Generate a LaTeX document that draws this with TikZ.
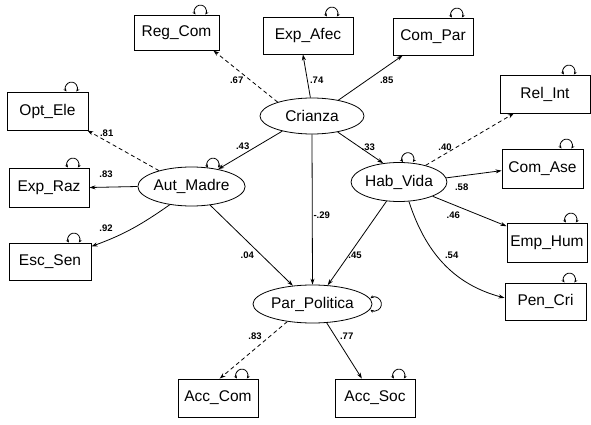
\documentclass[tikz,border=0pt]{standalone}
\usepackage{fontspec}
\setmainfont{Liberation Sans}
\usetikzlibrary{arrows.meta,positioning,shapes.geometric}

\begin{document}
\begin{tikzpicture}[
  x=1pt, y=1pt,
  >={Stealth[length=6pt,width=4pt]},
  obs/.style={draw, line width=0.9pt, minimum width=#1, minimum height=37pt, inner sep=0pt, font=\fontsize{15.5}{18}\selectfont},
  lat/.style={draw, ellipse, line width=0.8pt, inner sep=0pt, font=\fontsize{15.5}{18}\selectfont},
  load/.style={->, line width=0.8pt},
  ref/.style={->, line width=0.8pt, dash pattern=on 4pt off 3pt},
  coef/.style={font=\fontsize{9.5}{11}\selectfont\bfseries, inner sep=0pt},
  varloop/.style={{Stealth[length=3.5pt,width=3pt]}-{Stealth[length=3.5pt,width=3pt]}, line width=0.8pt},
]
\fill[white] (0,0) rectangle (591,424);
\useasboundingbox (0,0) rectangle (591,424);

% latent variables
\node[lat, minimum width=104pt, minimum height=36pt] (crianza) at (312,308) {Crianza};
\node[lat, minimum width=103pt, minimum height=39pt] (autmadre) at (191.5,237.5) {Aut\_Madre};
\node[lat, minimum width=91pt, minimum height=39pt] (habvida) at (399,242) {Hab\_Vida};
\node[lat, minimum width=119pt, minimum height=38pt] (parpol) at (312.5,120) {Par\_Politica};

% observed variables
\node[obs=85pt, minimum height=35pt] (regcom) at (176.5,391.5) {Reg\_Com};
\node[obs=90pt] (expafec) at (308,388.5) {Exp\_Afec};
\node[obs=80pt] (compar) at (433,387.5) {Com\_Par};
\node[obs=81pt, minimum height=38pt] (optele) at (47.5,313) {Opt\_Ele};
\node[obs=80pt, minimum height=39pt] (expraz) at (49,236.5) {Exp\_Raz};
\node[obs=82pt] (escsen) at (50,162.5) {Esc\_Sen};
\node[obs=90pt, minimum height=38pt] (relint) at (545,330) {Rel\_Int};
\node[obs=81pt, minimum height=39pt] (comase) at (542.5,255.5) {Com\_Ase};
\node[obs=80pt, minimum height=39pt] (emphum) at (547,181.5) {Emp\_Hum};
\node[obs=81pt] (pencri) at (545.5,122.5) {Pen\_Cri};
\node[obs=80pt, minimum height=38pt] (acccom) at (218,26) {Acc\_Com};
\node[obs=80pt, minimum height=38pt] (accsoc) at (375,26) {Acc\_Soc};

% paths
\draw[ref] (crianza.158) -- (regcom.-26);
\draw[load] (crianza.95) -- (expafec.-105);
\draw[load] (crianza.31) -- (compar.-148);
\draw[load] (crianza.207) -- (autmadre.33);
\draw[load] (crianza.south) -- (parpol.north);
\draw[load] (crianza.-32) -- (habvida.130);
\draw[ref] (autmadre.154) -- (optele.-26);
\draw[load] (autmadre.west) -- (expraz.east);
\draw[load] (autmadre.220) to[out=215,in=20] (escsen.20);
\draw[load] (autmadre.-45) -- (parpol.137);
\draw[load] (habvida.237) -- (parpol.51);
\draw[ref] (habvida.32) -- (relint.212);
\draw[load] (habvida.5) -- (comase.183);
\draw[load] (habvida.-23) -- (emphum.158);
\draw[load] (habvida.-63) to[out=-72,in=165] (pencri.175);
\draw[ref] (parpol.215) -- (acccom.85);
\draw[load] (parpol.-53) -- (accsoc.124);

% variances
\foreach \b in {regcom,expafec,compar,optele,expraz,escsen,relint,comase,emphum,pencri,acccom,accsoc}
  \draw[varloop] ([xshift=19]\b.north) arc[start angle=215, end angle=-35, radius=6];
\draw[varloop] ([xshift=16.6,yshift=-1]autmadre.north) arc[start angle=215, end angle=-35, radius=6];
\draw[varloop] ([xshift=4]habvida.north) arc[start angle=215, end angle=-35, radius=6];
\draw[varloop] ([xshift=-2,yshift=5.7]parpol.east) arc[start angle=125, end angle=-125, radius=7];

% coefficients
\node[coef] (c67) at (236.7,344) {.67};
\node[coef] (c74) at (316.7,344) {.74};
\node[coef] (c85) at (386.7,344) {.85};
\node[coef] (c81) at (106.7,291) {.81};
\node[coef] (c43) at (242.7,277.3) {.43};
\node[coef] (c83a) at (106,249.7) {.83};
\node[coef] (c92) at (106,195.7) {.92};
\node[coef] (c04) at (247.3,169) {.04};
\node[coef] (c33) at (368.3,276.7) {.33};
\node[coef] (c40) at (445,276.7) {.40};
\node[coef] (c58) at (461.7,236.7) {.58};
\node[coef] (c29) at (321.7,209) {-.29};
\node[coef] (c46) at (453.3,209) {.46};
\node[coef] (c45) at (355,169) {.45};
\node[coef] (c54) at (451.7,169) {.54};
\node[coef] (c83b) at (255,87.3) {.83};
\node[coef] (c77) at (346.7,87.3) {.77};

\end{tikzpicture}
\end{document}
